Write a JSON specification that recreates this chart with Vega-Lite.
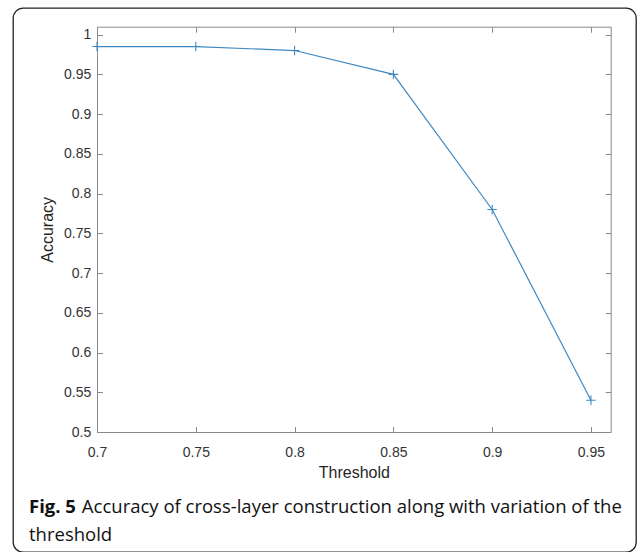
{
  "$schema": "https://vega.github.io/schema/vega-lite/v6.json",
  "width": 623,
  "height": 544,
  "autosize": {"type": "none"},
  "padding": {"left": 13, "top": 8, "right": 1, "bottom": 0},
  "background": "white",
  "view": {"stroke": "#222222", "strokeWidth": 1.3, "cornerRadius": 10, "fill": "white"},
  "config": {
    "axis": {
      "grid": false,
      "labelFlush": false,
      "labelOverlap": false,
      "domainColor": "#8a8a8a",
      "tickColor": "#8a8a8a",
      "domainWidth": 1,
      "tickWidth": 1,
      "labelFont": "Liberation Sans",
      "labelFontSize": 14,
      "labelColor": "#333333",
      "titleFont": "Liberation Sans",
      "titleFontSize": 16,
      "titleFontWeight": "normal",
      "titleColor": "#262626"
    }
  },
  "data": {
    "values": [
      {"threshold": 0.7, "accuracy": 0.985},
      {"threshold": 0.75, "accuracy": 0.985},
      {"threshold": 0.8, "accuracy": 0.98},
      {"threshold": 0.85, "accuracy": 0.95},
      {"threshold": 0.9, "accuracy": 0.78},
      {"threshold": 0.95, "accuracy": 0.54}
    ]
  },
  "title": {
    "text": "Fig. 5",
    "subtitle": ["\u200b\u00a0\u00a0\u00a0\u00a0\u00a0\u00a0\u00a0\u00a0\u00a0\u00a0\u00a0Accuracy of cross-layer construction along with variation of the", "threshold"],
    "orient": "bottom",
    "anchor": "start",
    "frame": "group",
    "font": "Open Sans",
    "fontSize": 18.5,
    "fontWeight": "bold",
    "color": "#111111",
    "subtitleFont": "Open Sans",
    "subtitleFontSize": 18.5,
    "subtitleFontWeight": "normal",
    "subtitleColor": "#111111",
    "subtitlePadding": -18.5,
    "subtitleLineHeight": 27.5,
    "offset": -54,
    "dx": 16
  },
  "layer": [
    {
      "mark": {"type": "line", "color": "#3f89c2", "strokeWidth": 1.2},
      "encoding": {
        "x": {
          "field": "threshold", "type": "quantitative",
          "scale": {"domain": [0.7, 0.96], "range": [84, 597.7], "nice": false, "zero": false},
          "axis": {"orient": "bottom", "title": "Threshold", "values": [0.7, 0.75, 0.8, 0.85, 0.9, 0.95], "format": ".2~f", "offset": -120, "tickSize": -5.5, "labelPadding": 19, "titlePadding": 5}
        },
        "y": {
          "field": "accuracy", "type": "quantitative",
          "scale": {"domain": [0.5, 1.01], "range": [424, 18.7], "nice": false, "zero": false},
          "axis": {"orient": "left", "title": "Accuracy", "values": [0.5, 0.55, 0.6, 0.65, 0.7, 0.75, 0.8, 0.85, 0.9, 0.95, 1], "format": ".2~f", "offset": -84, "tickSize": -5.5, "labelPadding": 11.8, "titlePadding": 8}
        }
      }
    },
    {
      "mark": {"type": "point", "shape": "M-1,0L1,0M0,-1L0,1", "filled": false, "color": "#3f89c2", "strokeWidth": 1.1, "size": 90, "opacity": 1},
      "encoding": {
        "x": {
          "field": "threshold", "type": "quantitative",
          "axis": {"orient": "top", "title": null, "labels": false, "values": [0.7, 0.75, 0.8, 0.85, 0.9, 0.95], "offset": -18.7, "tickSize": -5.5}
        },
        "y": {
          "field": "accuracy", "type": "quantitative",
          "axis": {"orient": "right", "title": null, "labels": false, "values": [0.5, 0.55, 0.6, 0.65, 0.7, 0.75, 0.8, 0.85, 0.9, 0.95, 1], "offset": -25.3, "tickSize": -5.5}
        }
      }
    }
  ],
  "resolve": {"axis": {"x": "independent", "y": "independent"}}
}
